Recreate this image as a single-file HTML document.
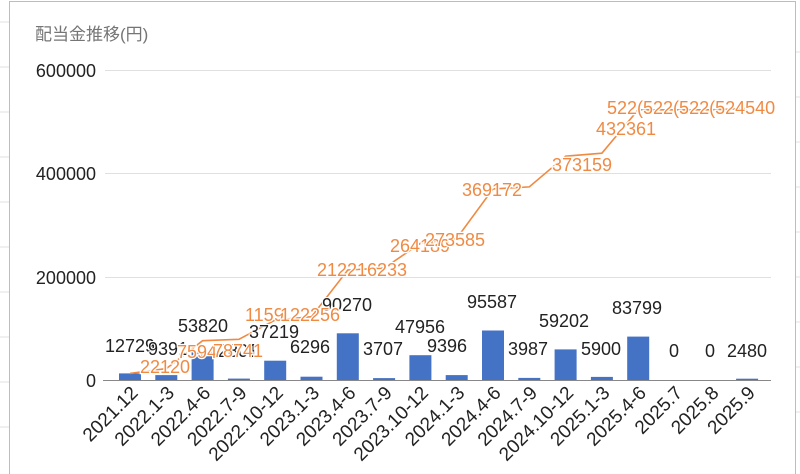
<!DOCTYPE html>
<html><head><meta charset="utf-8"><style>
body{margin:0;background:#fff;width:800px;height:474px;overflow:hidden}
svg{display:block;font-family:"Liberation Sans","Noto Sans CJK JP",sans-serif}
</style></head><body>
<svg width="800" height="474" viewBox="0 0 800 474">
<rect x="0" y="0" width="800" height="474" fill="#fff"/>
<g stroke="#e0e0e0" stroke-width="1">
<line x1="0" y1="22" x2="9" y2="22"/><line x1="0" y1="67" x2="9" y2="67"/><line x1="0" y1="112" x2="9" y2="112"/><line x1="0" y1="157" x2="9" y2="157"/><line x1="0" y1="202" x2="9" y2="202"/><line x1="0" y1="247" x2="9" y2="247"/><line x1="0" y1="292" x2="9" y2="292"/><line x1="0" y1="337" x2="9" y2="337"/><line x1="0" y1="382" x2="9" y2="382"/><line x1="0" y1="427" x2="9" y2="427"/>
<line x1="796" y1="52" x2="800" y2="52"/><line x1="796" y1="97" x2="800" y2="97"/><line x1="796" y1="142" x2="800" y2="142"/><line x1="796" y1="187" x2="800" y2="187"/><line x1="796" y1="232" x2="800" y2="232"/><line x1="796" y1="277" x2="800" y2="277"/><line x1="796" y1="322" x2="800" y2="322"/><line x1="796" y1="367" x2="800" y2="367"/><line x1="796" y1="412" x2="800" y2="412"/>
</g>
<line x1="9.5" y1="1" x2="9.5" y2="474" stroke="#bdbdbd"/>
<line x1="9" y1="1.5" x2="795" y2="1.5" stroke="#bdbdbd"/>
<line x1="795.5" y1="1" x2="795.5" y2="474" stroke="#bdbdbd"/>
<text x="35" y="40" font-size="17" fill="#757575">配当金推移(円)</text>
<g stroke="#e0e0e0" stroke-width="1">
<line x1="105" y1="70.5" x2="771" y2="70.5"/>
<line x1="105" y1="173.5" x2="771" y2="173.5"/>
<line x1="105" y1="277.5" x2="771" y2="277.5"/>
</g>
<g font-size="18" fill="#222" text-anchor="end">
<text x="96" y="77">600000</text>
<text x="96" y="180">400000</text>
<text x="96" y="284">200000</text>
<text x="96" y="387">0</text>
</g>
<g fill="#4472c4">
<rect x="119" y="373.4" width="22" height="6.6"/>
<rect x="155.3" y="375.1" width="22" height="4.9"/>
<rect x="191.6" y="352.1" width="22" height="27.9"/>
<rect x="227.9" y="378.6" width="22" height="1.4"/>
<rect x="264.2" y="360.7" width="22" height="19.3"/>
<rect x="300.5" y="376.7" width="22" height="3.3"/>
<rect x="336.8" y="333.3" width="22" height="46.7"/>
<rect x="373.1" y="378.1" width="22" height="1.9"/>
<rect x="409.4" y="355.2" width="22" height="24.8"/>
<rect x="445.7" y="375.1" width="22" height="4.9"/>
<rect x="482" y="330.5" width="22" height="49.5"/>
<rect x="518.3" y="377.9" width="22" height="2.1"/>
<rect x="554.6" y="349.4" width="22" height="30.6"/>
<rect x="590.9" y="376.9" width="22" height="3.1"/>
<rect x="627.2" y="336.6" width="22" height="43.4"/>
<rect x="736.1" y="378.7" width="22" height="1.3"/>
</g>
<line x1="103" y1="380.5" x2="771" y2="380.5" stroke="#888"/>
<polyline fill="none" stroke="#f08a43" stroke-width="1.6" points="130,373.4 166.3,368.6 202.6,340.7 238.9,339.3 275.2,320 311.5,316.7 347.8,270 384.1,268.1 420.4,243.3 456.7,238.4 493,188.9 529.3,186.9 565.6,156.2 601.9,153.2 638.2,109.8 674.5,109.8 710.8,109.8 747.1,108.5"/>
<g font-size="18" fill="#222" stroke="#fff" stroke-width="2" paint-order="stroke">
<text x="105" y="352">12729</text>
<text x="148" y="355">9391</text>
<text x="178" y="332">53820</text>
<text x="218" y="357">2801</text>
<text x="249" y="338">37219</text>
<text x="290" y="353">6296</text>
<text x="322" y="311">90270</text>
<text x="363" y="355">3707</text>
<text x="395" y="333">47956</text>
<text x="427" y="352">9396</text>
<text x="467" y="308">95587</text>
<text x="508" y="355">3987</text>
<text x="539" y="327">59202</text>
<text x="581" y="355">5900</text>
<text x="612" y="314">83799</text>
<text x="669" y="357">0</text>
<text x="705" y="357">0</text>
<text x="727" y="357">2480</text>
</g>
<g font-size="18" fill="#f08a43" stroke="#fff" stroke-width="2.5" paint-order="stroke">
<text x="140" y="373">22120</text>
<text x="177" y="358">7594</text>
<text x="213" y="357">78741</text>
<text x="245" y="321">1159</text>
<text x="280" y="321">122256</text>
<text x="317" y="276">212</text>
<text x="347" y="276">216233</text>
<text x="390" y="252">264189</text>
<text x="425" y="246">273585</text>
<text x="462" y="196">369172</text>
<text x="552" y="171">373159</text>
<text x="596" y="135">432361</text>
<text x="607" y="114">522(522(522(524540</text>
</g>
<g font-size="19" fill="#222" text-anchor="end">
<text transform="translate(139,394) rotate(-45)">2021.12</text>
<text transform="translate(175.3,394) rotate(-45)">2022.1-3</text>
<text transform="translate(211.6,394) rotate(-45)">2022.4-6</text>
<text transform="translate(247.9,394) rotate(-45)">2022.7-9</text>
<text transform="translate(284.2,394) rotate(-45)">2022.10-12</text>
<text transform="translate(320.5,394) rotate(-45)">2023.1-3</text>
<text transform="translate(356.8,394) rotate(-45)">2023.4-6</text>
<text transform="translate(393.1,394) rotate(-45)">2023.7-9</text>
<text transform="translate(429.4,394) rotate(-45)">2023.10-12</text>
<text transform="translate(465.7,394) rotate(-45)">2024.1-3</text>
<text transform="translate(502,394) rotate(-45)">2024.4-6</text>
<text transform="translate(538.3,394) rotate(-45)">2024.7-9</text>
<text transform="translate(574.6,394) rotate(-45)">2024.10-12</text>
<text transform="translate(610.9,394) rotate(-45)">2025.1-3</text>
<text transform="translate(647.2,394) rotate(-45)">2025.4-6</text>
<text transform="translate(683.5,394) rotate(-45)">2025.7</text>
<text transform="translate(719.8,394) rotate(-45)">2025.8</text>
<text transform="translate(756.1,394) rotate(-45)">2025.9</text>
</g>
</svg>
</body></html>
